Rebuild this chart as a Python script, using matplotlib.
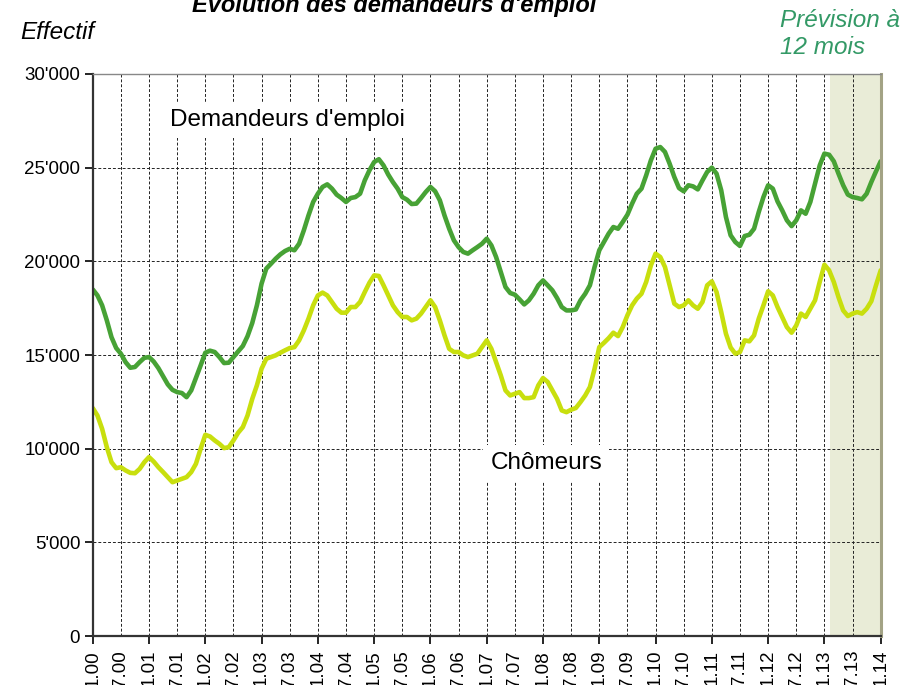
import matplotlib
matplotlib.use("Agg")
import matplotlib.pyplot as plt
import numpy as np

plt.rcParams['font.family'] = ['Liberation Sans', 'DejaVu Sans']

# monthly values, janvier 2000 .. janvier 2014 (dernieres 12 = prevision)
demandeurs = [
    18500, 18180, 17650, 16850, 15950, 15370, 15070, 14620, 14320, 14360, 14620, 14850,
    14890, 14650, 14300, 13870, 13430, 13140, 13020, 12970, 12750, 13110, 13770, 14440,
    15120, 15230, 15160, 14890, 14570, 14590, 14890, 15190, 15480, 16000, 16700, 17650,
    18810, 19610, 19870, 20140, 20370, 20550, 20670, 20590, 20940, 21650, 22450, 23170,
    23610, 23970, 24110, 23880, 23560, 23380, 23170, 23380, 23430, 23610, 24320, 24860,
    25300, 25450, 25120, 24630, 24230, 23880, 23430, 23290, 23060, 23080, 23380, 23700,
    23970, 23740, 23260, 22450, 21740, 21120, 20760, 20500, 20410, 20590, 20760, 20940,
    21210, 20850, 20230, 19430, 18630, 18310, 18220, 17970, 17700, 17920, 18270, 18720,
    18980, 18720, 18450, 18040, 17560, 17380, 17380, 17430, 17920, 18270, 18720, 19700,
    20590, 21030, 21480, 21830, 21740, 22100, 22490, 23080, 23610, 23880, 24590, 25390,
    26010, 26100, 25840, 25210, 24500, 23910, 23740, 24060, 24000, 23840, 24320, 24770,
    25000, 24680, 23790, 22370, 21390, 21030, 20820, 21350, 21420, 21740, 22630, 23430,
    24060, 23880, 23200, 22720, 22190, 21880, 22190, 22720, 22540, 23170, 24150, 25120,
    25750, 25690, 25340, 24680, 24060, 23560, 23430, 23380, 23310, 23610, 24230, 24800,
    25340,
]
chomeurs = [
    12170, 11770, 11060, 10080, 9280, 8960, 9010, 8840, 8710, 8690, 8920, 9280,
    9550, 9310, 9010, 8750, 8480, 8210, 8300, 8390, 8480, 8750, 9190, 9990,
    10740, 10650, 10440, 10260, 10030, 10080, 10440, 10850, 11150, 11770, 12650, 13380,
    14270, 14800, 14890, 14980, 15120, 15250, 15370, 15420, 15780, 16310, 16940, 17650,
    18180, 18330, 18180, 17830, 17470, 17260, 17260, 17560, 17560, 17830, 18360, 18860,
    19250, 19220, 18720, 18180, 17650, 17290, 17030, 17030, 16850, 16940, 17210, 17560,
    17920, 17560, 16850, 16050, 15330, 15160, 15160, 14980, 14890, 14980, 15070, 15420,
    15780, 15330, 14620, 13910, 13110, 12840, 12930, 13020, 12700, 12700, 12750, 13380,
    13770, 13560, 13110, 12660, 12040, 11950, 12080, 12170, 12490, 12840, 13290, 14270,
    15420, 15650, 15900, 16190, 16010, 16490, 17120, 17650, 18010, 18270, 18900, 19780,
    20410, 20230, 19700, 18720, 17740, 17560, 17650, 17920, 17650, 17470, 17830, 18720,
    18930, 18360, 17290, 16140, 15400, 15070, 15160, 15780, 15730, 16050, 16940, 17650,
    18400, 18180, 17560, 17030, 16490, 16190, 16580, 17210, 17030, 17470, 17920, 18900,
    19820, 19520, 18900, 18090, 17380, 17080, 17210, 17290, 17210, 17470, 17870, 18720,
    19520,
]
tick_labels = ['1.00', '7.00', '1.01', '7.01', '1.02', '7.02', '1.03', '7.03', '1.04', '7.04',
               '1.05', '7.05', '1.06', '7.06', '1.07', '7.07', '1.08', '7.08', '1.09', '7.09',
               '1.10', '7.10', '1.11', '7.11', '1.12', '7.12', '1.13', '7.13', '1.14']
y_ticks = [0, 5000, 10000, 15000, 20000, 25000, 30000]
y_labels = ["0", "5'000", "10'000", "15'000", "20'000", "25'000", "30'000"]

months = np.arange(len(demandeurs))
n = len(months) - 1

fig = plt.figure(figsize=(9.03, 6.85), dpi=100)
ax = fig.add_axes([0.1027, 0.0715, 0.8726, 0.8205])

# zone de prevision
ax.axvspan(n - 10.8, n, facecolor='#e9ecd7', edgecolor='none', zorder=0.2)

ax.plot(months, demandeurs, color='#47a235', lw=3.3, solid_capstyle='round', zorder=2)
ax.plot(months, chomeurs, color='#c8df0e', lw=3.3, solid_capstyle='round', zorder=2)

ax.set_xlim(0, n)
ax.set_ylim(0, 30000)

ax.set_xticks(months[::12])
ax.set_xticks(months[6::12], minor=True)
ax.set_xticklabels(tick_labels[::2], rotation=90, fontsize=13.5)
ax.set_xticklabels(tick_labels[1::2], rotation=90, fontsize=13.5, minor=True)
ax.tick_params(axis='x', which='major', length=6, width=1.2, direction='out', pad=4)
ax.tick_params(axis='x', which='minor', length=0, pad=10)

ax.set_yticks(y_ticks)
ax.set_yticklabels(y_labels, fontsize=13.5)
ax.tick_params(axis='y', length=6, width=1.2, direction='out', pad=3)

ax.set_axisbelow(True)
ax.grid(True, which='both', axis='x', color='#222222', lw=0.7, linestyle=(0, (3, 2)))
ax.grid(True, which='major', axis='y', color='#222222', lw=0.7, linestyle=(0, (3, 2)))

for side in ['left', 'bottom']:
    ax.spines[side].set_color('#333333')
    ax.spines[side].set_linewidth(1.6)
ax.spines['top'].set_color('#888888')
ax.spines['top'].set_linewidth(1.0)
ax.spines['right'].set_color('#a3a385')
ax.spines['right'].set_linewidth(2.2)

ax.text(41.6, 27550, "Demandeurs d'emploi", fontsize=17.5, ha='center', va='center',
        bbox=dict(facecolor='white', edgecolor='none', pad=5), zorder=3)
ax.text(96.7, 9240, "Chômeurs", fontsize=17.5, ha='center', va='center',
        bbox=dict(facecolor='white', edgecolor='none', pad=5), zorder=3)

fig.text(0.437, 0.982, "Evolution des demandeurs d'emploi", fontsize=17, fontweight='bold',
         fontstyle='italic', ha='center', va='baseline')
fig.text(0.022, 0.952, "Effectif", fontsize=17.5, fontstyle='italic', ha='left', va='center')
fig.text(0.864, 0.970, "Prévision à", fontsize=17.5, fontstyle='italic', color='#339966',
         ha='left', va='center')
fig.text(0.864, 0.930, "12 mois", fontsize=17.5, fontstyle='italic', color='#339966',
         ha='left', va='center')

fig.savefig('out.png', dpi=100)
